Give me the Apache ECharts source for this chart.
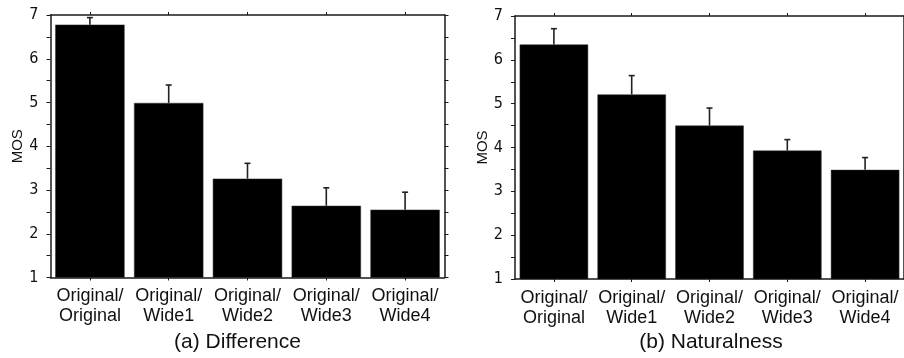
<!DOCTYPE html>
<html>
<head>
<meta charset="utf-8">
<script src="https://cdn.jsdelivr.net/npm/echarts@6/dist/echarts.min.js"></script>
<style>
html,body{margin:0;padding:0;background:#fff;}
#chart{width:904px;height:358px;}
</style>
</head>
<body>
<div id="chart"></div>
<script>
// ---- data ----
const categories = ['Original/\nOriginal', 'Original/\nWide1', 'Original/\nWide2', 'Original/\nWide3', 'Original/\nWide4'];
const diffMeans = [6.78, 4.99, 3.26, 2.64, 2.55];
const diffErr   = [0.16, 0.41, 0.35, 0.41, 0.40];
const natMeans  = [6.35, 5.21, 4.50, 3.93, 3.49];
const natErr    = [0.36, 0.43, 0.40, 0.25, 0.28];
const yTicks = { min: 1, max: 7, interval: 1 };
const panelTitles = ['(a) Difference', '(b) Naturalness'];
const yName = 'MOS';

const axisColor = '#1a1a1a';
const sansFont = '"Liberation Sans", Arial, sans-serif';
const narrowFont = '"Liberation Sans Narrow", "DejaVu Sans Condensed", sans-serif';

function errData(means, errs) {
  return means.map((m, i) => [i, m, m + errs[i]]);
}

function errRender(params, api) {
  const idx = api.value(0);
  const lo = api.coord([idx, api.value(1)]);
  const hi = api.coord([idx, api.value(2)]);
  const half = 3;
  const style = { stroke: '#222', lineWidth: 1.6 };
  return {
    type: 'group',
    children: [
      { type: 'line', shape: { x1: lo[0], y1: lo[1], x2: hi[0], y2: hi[1] }, style: style },
      { type: 'line', shape: { x1: hi[0] - half, y1: hi[1], x2: hi[0] + half, y2: hi[1] }, style: style }
    ]
  };
}

const grids = [
  { left: 50.5, top: 15, width: 394, height: 262.5 },
  { left: 515, top: 16, width: 392.5, height: 263 }
];

const xAxes = [], yAxes = [];
grids.forEach((g, gi) => {
  xAxes.push({
    type: 'category', gridIndex: gi, position: 'bottom', data: categories,
    axisLine: { lineStyle: { color: axisColor, width: 1.5 } },
    axisTick: { show: true, alignWithLabel: true, length: 3, inside: false, lineStyle: { color: axisColor } },
    axisLabel: { margin: 9, color: '#111', fontFamily: sansFont, fontSize: 18, lineHeight: 20, interval: 0 }
  });
  xAxes.push({
    type: 'category', gridIndex: gi, position: 'top', data: categories,
    axisLine: { lineStyle: { color: axisColor, width: 1.5 } },
    axisTick: { show: true, alignWithLabel: true, length: 3, lineStyle: { color: axisColor } },
    axisLabel: { show: false }
  });
  yAxes.push({
    type: 'value', gridIndex: gi, position: 'left',
    min: yTicks.min, max: yTicks.max, interval: yTicks.interval,
    name: yName, nameLocation: 'middle', nameGap: 25,
    nameTextStyle: { fontFamily: sansFont, fontSize: 15, color: '#111' },
    axisLine: { show: true, lineStyle: { color: axisColor, width: 1.5 } },
    axisTick: { show: true, length: 4, lineStyle: { color: axisColor } },
    minorTick: { show: true, splitNumber: 2, length: 4, lineStyle: { color: axisColor } },
    splitLine: { show: false },
    axisLabel: { margin: 12, color: '#111', fontFamily: narrowFont, fontSize: 16 }
  });
  yAxes.push({
    type: 'value', gridIndex: gi, position: 'right',
    min: yTicks.min, max: yTicks.max, interval: yTicks.interval,
    axisLine: { show: true, lineStyle: { color: axisColor, width: 1.5 } },
    axisTick: { show: true, length: 4, lineStyle: { color: axisColor } },
    minorTick: { show: true, splitNumber: 2, length: 4, lineStyle: { color: axisColor } },
    splitLine: { show: false },
    axisLabel: { show: false }
  });
});

const panels = [
  { means: diffMeans, errs: diffErr },
  { means: natMeans, errs: natErr }
];

const series = [];
panels.forEach((p, gi) => {
  series.push({
    type: 'bar', xAxisIndex: gi * 2, yAxisIndex: gi * 2,
    data: p.means, barCategoryGap: '12%',
    itemStyle: { color: '#000', borderColor: '#333', borderWidth: 0.5 },
    silent: true, z: 2
  });
  series.push({
    type: 'custom', xAxisIndex: gi * 2, yAxisIndex: gi * 2,
    data: errData(p.means, p.errs), renderItem: errRender,
    silent: true, z: 3
  });
});

const chart = echarts.init(document.getElementById('chart'), null, { renderer: 'canvas' });
chart.setOption({
  animation: false,
  backgroundColor: '#fff',
  grid: grids,
  xAxis: xAxes,
  yAxis: yAxes,
  series: series,
  graphic: [
    { type: 'text', x: 237.5, y: 342, style: { text: panelTitles[0], fill: '#111', font: '21px ' + sansFont, align: 'center', verticalAlign: 'middle' } },
    { type: 'text', x: 711, y: 342, style: { text: panelTitles[1], fill: '#111', font: '21px ' + sansFont, align: 'center', verticalAlign: 'middle' } }
  ]
});
</script>
</body>
</html>
